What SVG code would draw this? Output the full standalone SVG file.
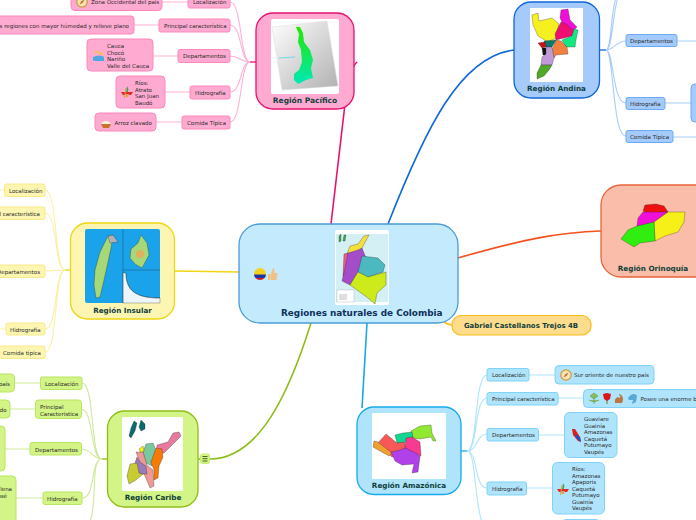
<svg xmlns="http://www.w3.org/2000/svg" xmlns:xlink="http://www.w3.org/1999/xlink" width="696" height="520" viewBox="0 0 696 520">
<style>
text{font-family:"DejaVu Sans","Liberation Sans",sans-serif;font-size:5.5px;fill:#2a2a2a}
.t{font-weight:bold;font-size:7.2px;fill:#0f3f3a;text-anchor:middle}
.c{fill:none;stroke-width:1.1}
.m{fill:none;stroke-width:1.6}
.pk rect.b{fill:#ffabd1;stroke:#ff86ba}.pk.c,.pk .c{stroke:#ffb3d3}
.bl rect.b{fill:#a4cbfb;stroke:#6ea9f5}.bl.c{stroke:#a9cdfa}
.ye rect.b{fill:#fdf6b2;stroke:#f8e98a}.ye.c{stroke:#fbf0a6}
.gr rect.b{fill:#d3f486;stroke:#b9e560}.gr.c{stroke:#cfe99a}
.cy rect.b{fill:#b0e4fc;stroke:#7fd2f8}.cy.c{stroke:#b0e4fc}
rect.b{stroke-width:1}
.pk .n{fill:#ffabd1;stroke:#e8126f}.bl .n{fill:#a6cbfb;stroke:#0f68d8}.ye .n{fill:#fdf6b2;stroke:#efd510}.gr .n{fill:#d3f486;stroke:#8fbe18}.cy .n{fill:#b0e4fc;stroke:#18a9ea}.or .n{fill:#f9bda9;stroke:#e8643a}
.n{stroke-width:1.3}
.map path{stroke:#222;stroke-width:.3}
</style>
<defs>
<linearGradient id="pg" x1="0" y1="0" x2="0" y2="1"><stop offset="0" stop-color="#22e800"/><stop offset="1" stop-color="#00e8b8"/></linearGradient>
<linearGradient id="pp" x1="0" y1="0" x2="1" y2="1"><stop offset="0" stop-color="#fff"/><stop offset="1" stop-color="#b0b0b0"/></linearGradient>
<g id="compass"><circle cx="6" cy="6" r="5.2" fill="#f6e3b0" stroke="#c99a3c" stroke-width="1.2"/><path d="M8.5 3.5 6.8 6.8 3.5 8.5 5.2 5.2Z" fill="#c9703c"/></g>
<g id="canoe"><path d="M6 0 7.5 3 6.5 7H5Z" fill="#3aa655"/><path d="M0 6H12L10 9H2Z" fill="#e02a2a"/><path d="M5 2 3.5 12" stroke="#d9a040" stroke-width="1" fill="none"/><path d="M4 8H8L7 11H5Z" fill="#e8a050"/></g>
</defs>

<g id="connectors">
<path class="m" stroke="#e8126f" d="M331 224 345 104Q348 70 357 62"/>
<path class="m" stroke="#0f68d8" d="M388 224C425 130 460 56 514 50"/>
<path class="m" stroke="#f4511e" d="M458 258C520 240 560 232 601 231"/>
<path class="m" stroke="#f0d510" d="M239 272 175 271"/>
<path class="m" stroke="#18a9ea" d="M367 323 362 408"/>
<path class="m" stroke="#8fbe18" d="M311 323C290 390 260 459 210 459M200 459H198"/>
<path class="m" stroke="#fdbb1b" d="M444 322Q448 325 452 325"/>

<g class="pk c">
<path d="M250 62C240 62 242 2 230 2M250 62C240 62 242 25 230 25M250 62C240 62 240 56 230 56M250 62C240 62 242 92 230 92M250 62C240 62 242 122 230 122"/>
<path d="M162 2H188M134 25H159M153 56H178M165 92H190M156 122H182"/>
</g>
<path d="M250 62H256" stroke="#e8126f" stroke-width="1.3"/>
<g class="bl c">
<path d="M606 50C612 50 610 10 617 -5M606 50C613 50 612 10 619 -5M606 50C614 50 616 41 626 41M606 50C614 50 612 103 626 103M606 50C614 50 612 136 626 136"/>
<path d="M677 41H696M665 103H691M673 137H696"/>
</g>
<path d="M600 50H606" stroke="#0f68d8" stroke-width="1.3"/>
<g class="ye c">
<path d="M65 270C54 270 58 190 45 190M65 270C54 270 58 213 45 213M65 270C54 270 56 271 45 271M65 270C54 270 58 329 45 329M65 270C54 270 58 352 45 352"/>
<path d="M4 190H0M6 329H0"/>
</g>
<path d="M65 270H70" stroke="#efd510" stroke-width="1.3"/>
<g class="gr c">
<path d="M102 459C90 459 95 383 82 383M102 459C90 459 94 409 81 409M102 459C92 459 92 449 81 449M102 459C90 459 96 498 82 498M102 459C90 459 98 500 90 522"/>
<path d="M14 383H40M10 409H35M5 449H30M16 498H43"/>
</g>
<path d="M102 459H107" stroke="#8fbe18" stroke-width="1.3"/>
<g class="cy c">
<path d="M467 451C478 451 474 375 487 375M467 451C478 451 474 398 487 398M467 451C478 451 476 434 487 434M467 451C478 451 474 488 487 488M467 451C476 451 474 500 482 522"/>
<path d="M529 375H555M558 398H583M539 435H564M527 488H552"/>
</g>
<path d="M461 451H467" stroke="#18a9ea" stroke-width="1.3"/>
</g>

<g id="central">
<rect x="239" y="224" width="219" height="99" rx="21" fill="#c3ebfd" stroke="#4a9bd8" stroke-width="1.3"/>
<g class="map"><rect x="335" y="230" width="54" height="75" rx="2" fill="#fff"/>
<rect x="336" y="234" width="52" height="68" fill="#d4f0f5"/>
<path d="M364 236 369 235 362 248 358 254 347 254 350 246 358 244Z" fill="#f5e03a" stroke="none"/>
<path d="M344 254 348 253 347 270 343 276Z" fill="#ee5a8a" stroke="none"/>
<path d="M348 253 358 250 362 248 366 258 359 270 350 285 342 281 345 268Z" fill="#a54cc8" stroke="none"/>
<path d="M362 256 378 258 385 265 383 272 368 277 358 272Z" fill="#4cb8c0" stroke="none"/>
<path d="M358 272 368 277 386 272 386 285 377 293 375 304 368 298 350 285Z" fill="#cdea1a" stroke="none"/>
<rect x="337" y="290" width="17" height="12" fill="#fff" stroke="#999" stroke-width=".3"/>
<path d="M339 236 341 234 341 241 339 242ZM344 235 346 235 345 241 343 241Z" fill="#3cab50" stroke="none"/>
<path d="M339 295H347M339 297H347M339 299H347" stroke="#a54cc8" stroke-width="1"/>
</g>
<circle cx="260" cy="274" r="6" fill="#f5d020"/>
<path d="M254 274.500H266A6 6 0 0 1 264.500 278H255.500A6 6 0 0 1 254 274.500Z" fill="#2035a0"/>
<path d="M255.500 278H264.500A6 6 0 0 1 255.500 278Z" fill="#d01c3a"/>
<path d="M268 274h2.500v6H268ZM271 274l2-6 1.500 1-.5 4h3.500l-1 7h-5.500Z" fill="#f2c080"/>
<text x="281" y="316" style="font-weight:bold;font-size:8.9px;fill:#10305a">Regiones naturales de Colombia</text>
</g>

<g id="gabriel">
<rect x="452" y="315.500" width="139" height="19.500" rx="9" fill="#fddc8c" stroke="#fdbb1b" stroke-width="1.2"/>
<text x="521" y="328" class="t" style="font-size:6.950px">Gabriel Castellanos Trejos 4B</text>
</g>

<g id="pacifico" class="pk">
<rect class="n" x="256" y="13" width="98" height="96" rx="17"/>
<rect x="271" y="19" width="68" height="75" rx="2" fill="#fff"/>
<path d="M272 27 327 21 338 86 282 90Z" fill="url(#pp)" stroke="#ddd" stroke-width=".5"/>
<path d="M296 27 300 27 303 33 304 42 310 50 313 60 311 68 313 78 306 80 298 84 294 80 294 74 299 70 302 62 301 50 298 42 299 34Z" fill="url(#pg)"/>
<path d="M279 58 295 57" stroke="#6fd8e8" stroke-width="1"/>
<text class="t" x="305" y="103" style="font-size:7.500px">Región Pacífico</text>
</g>
<g id="p-loc" class="pk"><rect class="b" x="188" y="-5" width="42" height="13" rx="2"/><text x="193" y="4">Localización</text></g>
<g id="p-car" class="pk"><rect class="b" x="159" y="19" width="71" height="13" rx="2"/><text x="164" y="28">Principal característica</text></g>
<g id="p-dep" class="pk"><rect class="b" x="178" y="49.500" width="52" height="13" rx="2"/><text x="183" y="58">Departamentos</text></g>
<g id="p-hid" class="pk"><rect class="b" x="190" y="86" width="40" height="13" rx="2"/><text x="195" y="95">Hidrografía</text></g>
<g id="p-com" class="pk"><rect class="b" x="182" y="116" width="48" height="13" rx="2"/><text x="187" y="125">Comida Típica</text></g>
<g id="p-loc-l" class="pk"><rect class="b" x="71" y="-8" width="91" height="18.500" rx="4"/><use xlink:href="#compass" x="76" y="-4"/><text x="91" y="4">Zona Occidental del país</text></g>
<g id="p-car-l" class="pk"><rect class="b" x="-20" y="16" width="154" height="18" rx="3"/><text x="129" y="28" text-anchor="end">s regiones con mayor húmedad y relieve plano</text></g>
<g id="p-dep-l" class="pk"><rect class="b" x="87" y="39" width="66" height="32" rx="4"/>
<path d="M93 57C97 55 101 55 104 57V61H93Z" fill="#4ea9e0"/><circle cx="100" cy="54" r="1.300" fill="#f0c060"/><path d="M94 52C98 51 101 52 103 55" stroke="#f0c060" stroke-width="1.500" fill="none"/>
<text x="107" y="48">Cauca<tspan x="107" y="54.500">Chocó</tspan><tspan x="107" y="61">Nariño</tspan><tspan x="107" y="67.500">Valle del Cauca</tspan></text></g>
<g id="p-hid-l" class="pk"><rect class="b" x="116" y="76" width="49" height="32" rx="4"/><use xlink:href="#canoe" x="121" y="86"/>
<text x="135" y="85">Ríos:<tspan x="135" y="91.500">Atrato</tspan><tspan x="135" y="98">San Juan</tspan><tspan x="135" y="104.500">Baudó</tspan></text></g>
<g id="p-com-l" class="pk"><rect class="b" x="95" y="113" width="61" height="18" rx="4"/><path d="M101 124H111L109 128H103Z" fill="#c9702c"/><path d="M101 124C103 120 109 120 111 124Z" fill="#f4eee0"/><text x="114.500" y="125">Arroz clavado</text></g>

<g id="andina" class="bl">
<rect class="n" x="514" y="2" width="85.500" height="96" rx="17"/>
<g class="map"><rect x="530" y="8" width="53" height="74" fill="#fff"/>
<path d="M532 15 538 13 539 21 552 18 559 24 556 38 548 42 538 36 533 25Z" fill="#f6f020"/>
<path d="M561 10 568 9 570 20 577 27 573 31 563 24 560 18Z" fill="#ee10d8"/>
<path d="M561 22 566 24 574 31 572 36 556 40 555 34Z" fill="#ee0f70"/>
<path d="M574 29 578 30 576 40 575 47 566 47 562 40 572 36Z" fill="#10e880"/>
<path d="M556 40 561 41 567 47 568 54 556 55 554 58 552 50Z" fill="#f08040"/>
<path d="M544 41 556 40 552 47 546 47Z" fill="#0a7a70"/>
<path d="M538 43 545 42 546 47 542 48Z" fill="#d01010"/>
<path d="M542 48 546 48 546 55 543 55Z" fill="#111"/>
<path d="M546 47 552 47 554 58 552 65 541 65 542 57 546 54Z" fill="#c09ad8"/>
<path d="M541 65 552 65 549 70 544 76 537 79 537 73Z" fill="#50a828"/></g>
<text class="t" x="556.500" y="91">Región Andina</text>
</g>
<g id="a-dep" class="bl"><rect class="b" x="626" y="34.500" width="51" height="12" rx="2"/><text x="630" y="43">Departamentos</text></g>
<g id="a-hid" class="bl"><rect class="b" x="626" y="97.500" width="39" height="12" rx="2"/><text x="630" y="106">Hidrografía</text></g>
<g id="a-com" class="bl"><rect class="b" x="626" y="130.500" width="47" height="12" rx="2"/><text x="630" y="139">Comida Típica</text></g>
<g id="a-hid-l" class="bl"><rect class="b" x="691" y="84" width="20" height="38" rx="4"/></g>

<g id="orinoquia" class="or">
<rect class="n" x="601" y="185" width="115" height="92" rx="20"/>
<g class="map"><path d="M645 205 656 204 664 206 668 212 648 213 643 211Z" fill="#ee1010"/>
<path d="M643 212 668 212 655 222 645 227 637 226 638 218Z" fill="#ee10d8"/>
<path d="M668 212 685 212 684 222 678 232 665 236 655 241 654 222Z" fill="#f6f018"/>
<path d="M637 226 654 222 655 241 640 243 634 247 621 239 628 230Z" fill="#30ee10"/></g>
<text class="t" x="653" y="271">Región Orinoquía</text>
</g>

<g id="insular" class="ye">
<rect class="n" x="70.500" y="223" width="104" height="96" rx="17"/>
<g class="map"><rect x="85" y="229" width="75" height="74" rx="2" fill="#1aa2ea"/>
<path d="M123 273H126C126 290 135 298 160 298V303H123Z" fill="#eef6fb" stroke="none"/><path d="M126 273C126 290 135 298 160 298" stroke="#f2e25a" stroke-width="1.500" fill="none"/>
<path d="M123 229V303M123 270H160" stroke="#10669c" stroke-width=".6" fill="none"/>
<path d="M108 236 113 235 111 248 108 262 104 280 100 297 96 298 94 285 95 270 100 252Z" fill="#a6d878" stroke="none"/>
<path d="M108 236 113 235 118 242 110 243Z" fill="#b0b0b8" stroke="none"/>
<path d="M141 235 147 243 149 255 142 268 135 264 130 258 131 249 138 243Z" fill="#a6d878" stroke="none"/>
<circle cx="140" cy="254" r="4" fill="#e0b060"/></g>
<text class="t" x="122.500" y="312.500">Región Insular</text>
</g>
<g id="i-loc" class="ye"><rect class="b" x="4.500" y="184" width="40.500" height="12.500" rx="2"/><text x="9" y="192.500">Localización</text></g>
<g id="i-car" class="ye"><rect class="b" x="-20" y="207" width="65" height="12.500" rx="2"/><text x="40" y="215.500" text-anchor="end">l característica</text></g>
<g id="i-dep" class="ye"><rect class="b" x="-20" y="265" width="65" height="12.500" rx="2"/><text x="40" y="273.500" text-anchor="end">Departamentos</text></g>
<g id="i-hid" class="ye"><rect class="b" x="6" y="323" width="39" height="12" rx="2"/><text x="10" y="331.500">Hidrografía</text></g>
<g id="i-com" class="ye"><rect class="b" x="-1" y="346" width="46" height="12.500" rx="2"/><text x="3" y="354.500">Comida típica</text></g>

<g id="caribe" class="gr">
<rect class="n" x="107.500" y="411" width="90.500" height="96" rx="17"/>
<g class="map"><rect x="122" y="417" width="61" height="74" rx="1" fill="#fff"/>
<path d="M134 421 137 423 135 431 131 438 129 436 131 428Z" fill="#0a6a70" stroke="none"/><path d="M141 420 145 424 145 429 141 431 139 427Z" fill="#0a6a70" stroke="none"/>
<path d="M157 445 168 442 173 433 179 432 181 436 174 443 164 453 156 453Z" fill="#e87aa0" stroke="none"/>
<path d="M146 444 153 443 157 453 151 462 152 466 146 463 143 452Z" fill="#7ac8a0" stroke="none"/>
<path d="M139 449 143 446 144 451 141 453Z" fill="#f6ee10" stroke="#666" stroke-width=".3"/>
<path d="M136 452 143 452 147 465 153 470 154 486 150 488 145 476 143 473 139 460Z" fill="#ee9a94" stroke="none"/>
<path d="M156 448 162 449 163 457 159 466 158 478 154 480 154 470 151 462Z" fill="#f67a08" stroke="none"/>
<path d="M137 457 140 462 146 466 147 474 139 474 134 466Z" fill="#9a7ab8" stroke="none"/>
<path d="M130 464 137 463 139 473 143 474 136 480 129 484 127 476Z" fill="#c8cc30" stroke="none"/></g>
<text class="t" x="153" y="500">Región Caribe</text>
</g>
<g id="c-btn"><rect x="200.500" y="454" width="9" height="9.500" rx="2" fill="#d3f486" stroke="#c4ec6c"/><path d="M202.500 456.500H207.500M202.500 458.700H207.500M202.500 461H207.500" stroke="#37501a" stroke-width=".9"/></g>
<g id="c-loc" class="gr"><rect class="b" x="40.500" y="377" width="41.500" height="12.500" rx="2"/><text x="45" y="386">Localización</text></g>
<g id="c-car" class="gr"><rect class="b" x="35.500" y="400" width="46" height="18.500" rx="3"/><text x="40" y="409">Principal<tspan x="40" y="415.500">Caracteristica</tspan></text></g>
<g id="c-dep" class="gr"><rect class="b" x="30" y="442.500" width="51.500" height="12.500" rx="2"/><text x="35" y="451.500">Departamentos</text></g>
<g id="c-hid" class="gr"><rect class="b" x="43" y="492" width="39" height="12.500" rx="2"/><text x="47" y="500.500">Hidrografía</text></g>
<g id="c-loc-l" class="gr"><rect class="b" x="-20" y="374" width="34.500" height="18" rx="4"/><text x="10" y="386" text-anchor="end">país</text></g>
<g id="c-car-l" class="gr"><rect class="b" x="-20" y="400" width="30" height="18" rx="4"/><text x="6.500" y="411.500" text-anchor="end">do</text></g>
<g id="c-dep-l" class="gr"><rect class="b" x="-20" y="426" width="25" height="45" rx="4"/></g>
<g id="c-hid-l" class="gr"><rect class="b" x="-20" y="476" width="36" height="48" rx="4"/><text x="12" y="491" text-anchor="end">lena</text><text x="7" y="498" text-anchor="end">osé</text></g>

<g id="amazonica" class="cy">
<rect class="n" x="357" y="407" width="104" height="87.500" rx="17"/>
<g class="map"><rect x="372" y="413" width="74" height="66" rx="1" fill="#fff"/>
<path d="M411 431 420 426 431 425 432 433 436 441 433 441 431 437 420 439 413 438Z" fill="#90e830"/>
<path d="M395 435 403 433 412 432 413 437 404 443 397 443Z" fill="#10d890"/>
<path d="M386 434 397 443 404 442 407 449 400 454 392 457 378 443Z" fill="#f85858"/>
<path d="M374 441 378 442 392 453 389 456 373 447Z" fill="#f0a030"/>
<path d="M406 438 412 437 420 442 421 456 414 453 405 448Z" fill="#f83a90"/>
<path d="M391 452 400 450 405 448 414 452 420 456 418 472 412 473 414 464 402 465 395 461Z" fill="#b040e8"/></g>
<text class="t" x="409" y="488">Región Amazónica</text>
</g>
<g id="z-loc" class="cy"><rect class="b" x="487" y="368.500" width="42" height="12.500" rx="2"/><text x="492" y="377">Localización</text></g>
<g id="z-car" class="cy"><rect class="b" x="487" y="392.500" width="71" height="12.500" rx="2"/><text x="492" y="401">Principal característica</text></g>
<g id="z-dep" class="cy"><rect class="b" x="487" y="428.500" width="51.500" height="12.500" rx="2"/><text x="492" y="437">Departamentos</text></g>
<g id="z-hid" class="cy"><rect class="b" x="487" y="482" width="39.500" height="13" rx="2"/><text x="492" y="491">Hidrografía</text></g>
<g id="z-loc-l" class="cy"><rect class="b" x="555" y="365.500" width="99" height="18.500" rx="4"/><use xlink:href="#compass" x="560" y="369"/><text x="574" y="377">Sur oriente de nuestro país</text></g>
<g id="z-car-l" class="cy"><rect class="b" x="583.500" y="389.500" width="130" height="18" rx="4"/>
<path d="M594 404V396M590 396 594 399 598 396 594 393ZM589 400 594 402 599 400" fill="#8cc068" stroke="#6ea850" stroke-width=".8"/>
<path d="M607 404V399" stroke="#4a8a30"/><path d="M603 394 607 393 611 394 610 399 607 401 604 399Z" fill="#d81818"/>
<path d="M615 403C614 398 618 396 620 398 621 395 618 395 619 394 623 395 624 399 622 403Z" fill="#b87840"/>
<path d="M628 398C631 393 636 393 637 396L636 402 632 404 633 400 629 400Z" fill="#58a8d8"/>
<text x="640.500" y="401">Posee una enorme b</text></g>
<g id="z-dep-l" class="cy"><rect class="b" x="564.500" y="412.500" width="52.500" height="45" rx="5"/>
<path d="M572 429 575 429 580 437 581 442 578 441 573 435Z" fill="#d82020"/><path d="M575 434 580 437 581 442 577 439Z" fill="#2050c0"/>
<text x="584" y="421">Guaviare<tspan x="584" y="427.500">Guainía</tspan><tspan x="584" y="434">Amazonas</tspan><tspan x="584" y="440.500">Caquetá</tspan><tspan x="584" y="447">Putumayo</tspan><tspan x="584" y="453.500">Vaupés</tspan></text></g>
<g id="z-hid-l" class="cy"><rect class="b" x="552.500" y="462.500" width="52" height="51.500" rx="5"/><use xlink:href="#canoe" x="557" y="483"/>
<text x="572" y="471">Ríos:<tspan x="572" y="477.500">Amazonas</tspan><tspan x="572" y="484">Apaporis</tspan><tspan x="572" y="490.500">Caquetá</tspan><tspan x="572" y="497">Putumayo</tspan><tspan x="572" y="503.500">Guainía</tspan><tspan x="572" y="510">Vaupés</tspan></text></g>
<g id="z-com-l" class="cy"><rect class="b" x="562" y="519.500" width="38" height="12" rx="4"/></g>
</svg>
